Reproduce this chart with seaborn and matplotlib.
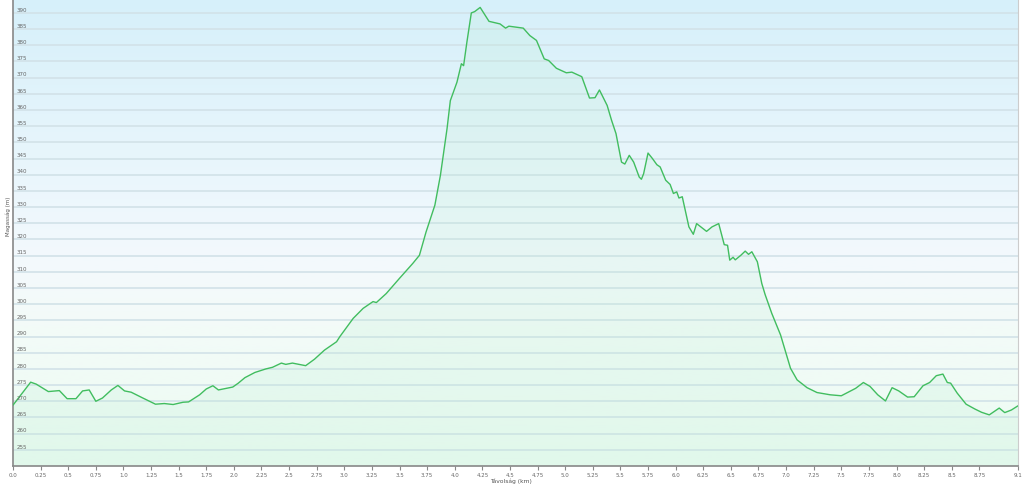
import numpy as np
import pandas as pd
import matplotlib
matplotlib.use("Agg")
import matplotlib.pyplot as plt
import seaborn as sns
from matplotlib.colors import LinearSegmentedColormap
from matplotlib.transforms import blended_transform_factory

# ---- data ----
distance_km = [0.00, 0.16, 0.21, 0.32, 0.42, 0.49, 0.57, 0.63, 0.69, 0.75, 0.81, 0.89, 0.95,
               1.01, 1.07, 1.17, 1.29, 1.37, 1.45, 1.54, 1.59, 1.69, 1.75, 1.81, 1.86, 1.93,
               1.99, 2.04, 2.10, 2.19, 2.29, 2.35, 2.43, 2.47, 2.53, 2.65, 2.73, 2.82, 2.93,
               2.96, 3.08, 3.17, 3.26, 3.29, 3.38, 3.50, 3.62, 3.68, 3.74, 3.82, 3.87, 3.90,
               3.93, 3.96, 4.02, 4.06, 4.08, 4.11, 4.15, 4.18, 4.23, 4.31, 4.41, 4.46, 4.49,
               4.62, 4.68, 4.74, 4.81, 4.85, 4.92, 5.01, 5.06, 5.15, 5.22, 5.27, 5.31, 5.38,
               5.42, 5.46, 5.51, 5.54, 5.58, 5.62, 5.67, 5.69, 5.71, 5.75, 5.79, 5.83, 5.86,
               5.91, 5.95, 5.98, 6.01, 6.03, 6.06, 6.09, 6.12, 6.16, 6.19, 6.28, 6.33, 6.39,
               6.44, 6.47, 6.49, 6.52, 6.54, 6.59, 6.63, 6.66, 6.69, 6.74, 6.78, 6.81, 6.87,
               6.92, 6.95, 7.04, 7.10, 7.19, 7.28, 7.40, 7.50, 7.63, 7.70, 7.76, 7.83, 7.90,
               7.96, 8.02, 8.10, 8.16, 8.24, 8.30, 8.36, 8.42, 8.46, 8.49, 8.55, 8.63, 8.71,
               8.77, 8.84, 8.93, 8.98, 9.04, 9.10]
elevation_m = [268.8, 275.9, 275.3, 273.0, 273.3, 270.8, 270.8, 273.2, 273.5, 270.0, 271.0, 273.5, 274.9,
               273.2, 272.8, 271.1, 269.1, 269.3, 269.0, 269.7, 269.8, 272.0, 273.8, 274.8, 273.5, 274.0,
               274.4, 275.6, 277.3, 278.9, 280.0, 280.5, 281.8, 281.4, 281.8, 281.0, 283.0, 285.8, 288.4,
               290.0, 295.6, 298.7, 300.8, 300.5, 303.3, 308.0, 312.6, 315.1, 322.3, 330.6, 339.8, 347.0,
               354.2, 362.9, 368.6, 374.3, 373.7, 381.0, 390.0, 390.4, 391.7, 387.4, 386.6, 385.3, 385.9,
               385.3, 383.0, 381.5, 375.8, 375.3, 372.9, 371.5, 371.7, 370.3, 363.7, 363.8, 366.2, 361.4,
               356.8, 352.7, 343.9, 343.3, 346.0, 343.9, 339.3, 338.6, 340.3, 346.7, 345.0, 343.1, 342.4,
               338.3, 337.0, 334.2, 334.7, 332.8, 333.2, 328.5, 323.9, 321.6, 324.9, 322.5, 323.9, 324.9,
               318.4, 318.2, 313.6, 314.5, 313.7, 315.1, 316.4, 315.4, 316.2, 313.1, 306.4, 303.0, 297.2,
               293.0, 290.5, 280.2, 276.6, 274.2, 272.7, 272.0, 271.7, 274.0, 275.8, 274.6, 272.0, 270.1,
               274.2, 273.2, 271.3, 271.4, 274.8, 275.8, 277.9, 278.4, 275.8, 275.6, 272.5, 269.1, 267.6,
               266.6, 265.8, 267.9, 266.5, 267.3, 268.6]
x_ticks = [0.0, 0.25, 0.5, 0.75, 1.0, 1.25, 1.5, 1.75, 2.0, 2.25, 2.5, 2.75, 3.0, 3.25, 3.5, 3.75,
           4.0, 4.25, 4.5, 4.75, 5.0, 5.25, 5.5, 5.75, 6.0, 6.25, 6.5, 6.75, 7.0, 7.25, 7.5, 7.75,
           8.0, 8.25, 8.5, 8.75, 9.1]
y_ticks = list(range(255, 391, 5))
x_label = "Távolság (km)"
y_label = "Magasság (m)"

df = pd.DataFrame({"km": distance_km, "m": elevation_m})

sns.set_theme(style="white")
plt.rcParams['font.family'] = ['DejaVu Sans']

fig = plt.figure(figsize=(10.22, 4.85), dpi=100)
fig.patch.set_facecolor("white")
ax = fig.add_axes([13/1022, 18/485, 1005/1022, 467/485])

ymin, ymax = 250, 394.3
xmin, xmax = 0, 9.1
ax.set_xlim(xmin, xmax)
ax.set_ylim(ymin, ymax)

# background gradient (blue top -> near white -> light mint bottom)
cmap = LinearSegmentedColormap.from_list(
    "bg", [(0.0, "#ecfbf2"), (0.30, "#f3fbf8"), (0.45, "#f3f9fd"), (1.0, "#d6f0fa")])
grad = np.linspace(0, 1, 256).reshape(-1, 1)
ax.imshow(grad, aspect="auto", cmap=cmap, origin="lower",
          extent=[xmin, xmax, ymin, ymax], zorder=0)

# grid lines
for v in y_ticks:
    ax.axhline(v, color="#d2e2e8", lw=1.2, zorder=1)

# area + line
ax.fill_between(df["km"], df["m"], ymin, color="#bdeed6", alpha=0.22, lw=0, zorder=2)
sns.lineplot(data=df, x="km", y="m", ax=ax, color="#41bd5f", lw=1.0, zorder=3)

# y tick labels inside plot
trans = blended_transform_factory(ax.transAxes, ax.transData)
for v in y_ticks:
    ax.text(0.004, v + 0.4, str(v), transform=trans, fontsize=4.0, color="#666666",
            ha="left", va="bottom", zorder=4)
ax.set_yticks([])

# x ticks
def fmt(v):
    s = f"{v:.2f}".rstrip("0")
    if s.endswith("."):
        s += "0"
    return s
ax.set_xticks(x_ticks)
ax.set_xticklabels([fmt(v) for v in x_ticks], fontsize=4.0, color="#666666")
ax.tick_params(axis="x", direction="out", length=3, width=0.8, color="#888888", pad=1.5,
               bottom=True)

ax.set_xlabel("")
ax.set_ylabel("")
fig.text(0.5, 1/485, x_label, ha="center", va="bottom", fontsize=4.3, color="#555555")
fig.text(8/1022, 0.555, y_label, ha="center", va="center", rotation=90, fontsize=4.0,
         color="#555555")

ax.spines["top"].set_visible(False)
ax.spines["left"].set_color("#888888")
ax.spines["left"].set_linewidth(1.2)
ax.spines["bottom"].set_color("#888888")
ax.spines["bottom"].set_linewidth(1.2)
ax.spines["right"].set_color("#cccccc")
ax.spines["right"].set_linewidth(0.8)

fig.savefig("out.png", dpi=100)
